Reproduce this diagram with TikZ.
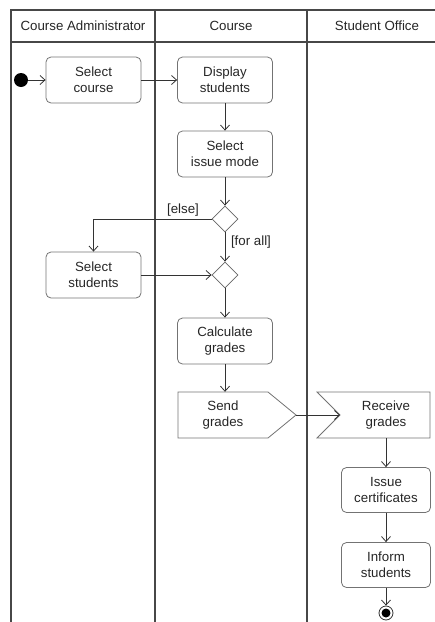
\documentclass[tikz,border=0pt]{standalone}
\usepackage{fontspec}
\setmainfont{Liberation Sans}
\usetikzlibrary{arrows.meta,shapes.geometric}
\begin{document}
\begin{tikzpicture}[x=1pt,y=-1pt,
  font=\fontsize{13.3}{16}\selectfont,
  lane/.style={draw=black!72, line width=1.1pt},
  action/.style={draw=black!55, rounded corners=5pt, minimum width=95pt,
    minimum height=46pt, align=center, text=black!85, line width=0.8pt, inner sep=0pt},
  signalbox/.style={draw=black!55, line width=0.8pt, line join=miter},
  signaltext/.style={align=center, text=black!85, inner sep=0pt,
    minimum width=90pt, minimum height=46pt},
  decision/.style={diamond, draw=black!60, line width=0.8pt, minimum width=26pt,
    minimum height=26pt, inner sep=0pt},
  flow/.style={draw=black!80, line width=0.8pt, -{Straight Barb[length=5pt,width=9pt]}},
  guard/.style={text=black!85, inner sep=0pt},
  header/.style={text=black!85, inner sep=0pt}
]
\useasboundingbox (0,0) rectangle (435,622);

% swimlane frame
\draw[lane] (11,622) -- (11,10) -- (435,10);
\draw[lane] (11,42) -- (435,42);
\draw[lane] (155,10) -- (155,622);
\draw[lane] (307,10) -- (307,622);
\node[header] (h1) at (83,26) {Course Administrator};
\node[header] (h2) at (231,26) {Course};
\node[header] (h3) at (377,26) {Student Office};

% actions
\node[circle, fill=black, minimum size=14pt, inner sep=0pt] (start) at (21,80) {};
\node[action] (selcourse) at (93.5,80) {Select\\course};
\node[action] (display) at (225,80) {Display\\students};
\node[action] (issuemode) at (225,154) {Select\\issue mode};
\node[decision] (d1) at (225,219) {};
\node[action] (selstud) at (93.5,275) {Select\\students};
\node[decision] (d2) at (225,275) {};
\node[action] (calc) at (225,341) {Calculate\\grades};

% send / receive signals
\draw[signalbox] (178,392) -- (268,392) -- (296,415) -- (268,438) -- (178,438) -- cycle;
\coordinate (sendtip) at (296,415);
\node[signaltext] (send) at (223,415) {Send\\grades};
\draw[signalbox] (317,392) -- (430,392) -- (430,438) -- (317,438) -- (340,415) -- cycle;
\coordinate (recvin) at (340,415);
\node[signaltext] (recv) at (386,415) {Receive\\grades};

\node[action, minimum width=89pt, minimum height=45pt] (issuecert) at (386,490) {Issue\\certificates};
\node[action, minimum width=89pt, minimum height=45pt] (inform) at (386,565) {Inform\\students};
\node[circle, draw=black!80, line width=0.8pt, minimum size=14pt, inner sep=0pt] (final) at (386,613) {};
\fill[black] (final.center) circle (4.5pt);

% control flow
\draw[flow] (start) -- (selcourse);
\draw[flow] (selcourse) -- (display);
\draw[flow] (display) -- (issuemode);
\draw[flow] (issuemode) -- (d1);
\draw[flow] (d1.west) -| (selstud.north);
\node[guard] (elseg) at (183,210.5) {[else]};
\draw[flow] (d1) -- (d2);
\node[guard] (forall) at (251,242.5) {[for all]};
\draw[flow] (selstud) -- (d2);
\draw[flow] (d2) -- (calc);
\draw[flow] (calc.south) -- (calc.south |- send.north);
\draw[flow] (sendtip) -- (recvin);
\draw[flow] (recv.south) -- (issuecert.north);
\draw[flow] (issuecert) -- (inform);
\draw[flow] (inform) -- (final);
\end{tikzpicture}
\end{document}
